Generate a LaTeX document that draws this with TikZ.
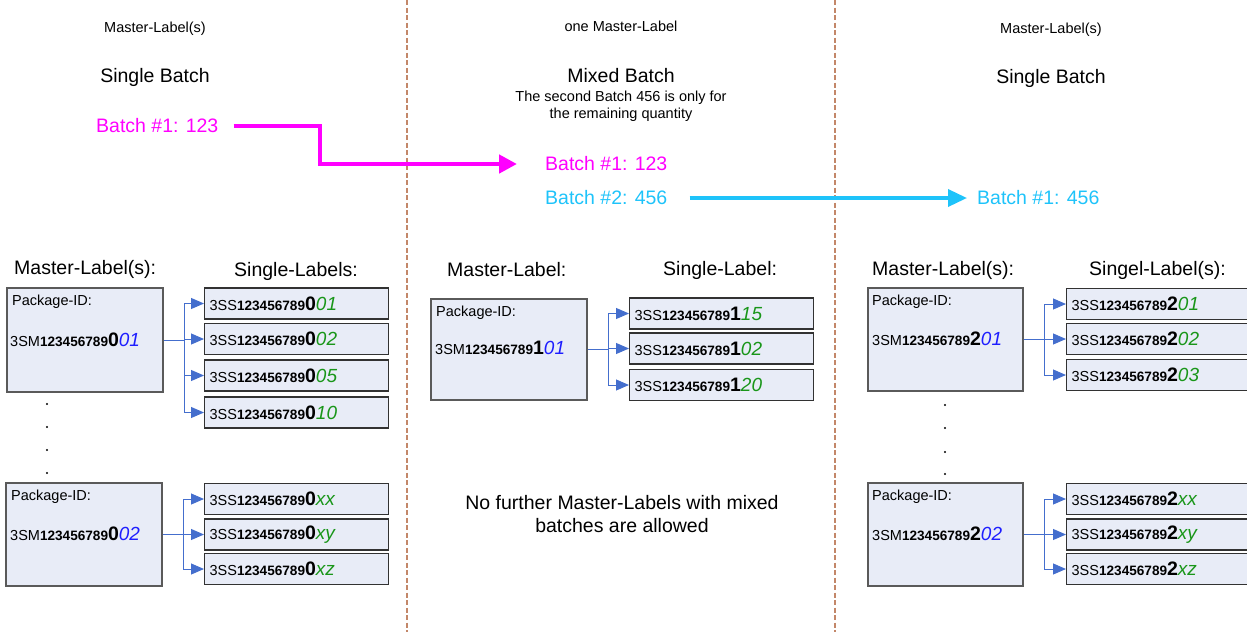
\documentclass[tikz,border=0pt]{standalone}
\usepackage{fontspec}
\setmainfont{Liberation Sans}
\usetikzlibrary{arrows.meta}
\definecolor{boxfill}{RGB}{232,236,247}
\definecolor{boxline}{RGB}{50,50,50}
\definecolor{mboxline}{RGB}{90,90,90}
\definecolor{connblue}{RGB}{68,110,205}
\definecolor{sfxblue}{RGB}{30,30,255}
\definecolor{sfxgreen}{RGB}{25,150,25}
\definecolor{magline}{RGB}{255,0,255}
\definecolor{cyline}{RGB}{30,195,250}
\definecolor{dashbrown}{RGB}{195,135,105}
\newcommand\fsz[1]{\fontsize{#1}{#1}\selectfont}
\newcommand\fszb[2]{\fontsize{#1}{#2}\selectfont}
% #1 prefix, #2 big bold digit, #3 suffix, #4 colour
\newcommand\idlab[4]{\fsz{14.5}#1{\bfseries\fsz{13.6}123456789}{\bfseries\fsz{19.5}#2}{\itshape\fsz{19}\color{#4}#3}}
\begin{document}
\begin{tikzpicture}[x=1pt,y=-1pt,
  txt/.style={inner sep=0pt, text=black},
  small/.style={txt, font=\fsz{14.5}},
  big/.style={txt, font=\fsz{19.5}},
  mbox/.style={draw=mboxline, fill=boxfill, line width=1.3pt, inner sep=0pt},
  sbox/.style={draw=boxline, fill=boxfill, line width=1.3pt, inner xsep=5pt, inner ysep=0pt,
     minimum height=31pt, text width=174pt, align=left, anchor=west},
  conn/.style={draw=connblue, line width=1pt},
  carr/.style={conn, -{Triangle[length=13pt,width=11pt]}},
  mag/.style={draw=magline, line width=4.5pt, -{Triangle[length=18pt,width=18pt]}},
  cyn/.style={draw=cyline, line width=3.5pt, -{Triangle[length=19pt,width=17pt]}},
  sep/.style={draw=dashbrown, line width=1.3pt, dash pattern=on 5pt off 2.5pt},
  dot/.style={circle, fill=black, inner sep=0pt, minimum size=2.2pt}
]
\useasboundingbox (0,0) rectangle (1247,632);
\clip (0,0) rectangle (1247,632);

% separators
\coordinate (d1t) at (407,0); \coordinate (d1b) at (407,632);
\coordinate (d2t) at (835,0); \coordinate (d2b) at (835,632);
\draw[sep] (d1t) -- (d1b);
\draw[sep] (d2t) -- (d2b);

% headers
\node[small] (h1) at (155,29) {Master-Label(s)};
\node[big] (h2) at (155,77) {Single Batch};
\node[small] (h3) at (621,26) {one Master-Label};
\node[big] (h4) at (621,76) {Mixed Batch};
\node[txt, align=center, font=\fszb{14.5}{17}] (h5) at (621,106) {The second Batch 456 is only for\\the remaining quantity};
\node[small] (h6) at (1051,30) {Master-Label(s)};
\node[big] (h7) at (1051,78) {Single Batch};

% batches
\node[big, text=magline, anchor=west] (ba1) at (96,126) {Batch \#1: 123};
\node[big, text=magline, anchor=west] (bm1) at (545,164) {Batch \#1: 123};
\node[big, text=cyline, anchor=west] (bm2) at (545,198) {Batch \#2: 456};
\node[big, text=cyline, anchor=west] (br1) at (977,198) {Batch \#1: 456};
\coordinate (mk) at (320,164);
\draw[mag, shorten <=15pt, shorten >=28pt] (ba1.east) -| (mk) -- (bm1.west);
\draw[cyn, shorten <=22pt, shorten >=10pt] (bm2.east) -- (br1.west);

% column titles
\node[big, anchor=west] (t1) at (14,269) {Master-Label(s):};
\node[big, anchor=west] (t2) at (234,271) {Single-Labels:};
\node[big, anchor=west] (t3) at (447,270) {Master-Label:};
\node[big, anchor=west] (t4) at (663,270) {Single-Label:};
\node[big, anchor=west] (t5) at (872,270) {Master-Label(s):};
\node[big, anchor=west] (t6) at (1089,270) {Singel-Label(s):};

% ---------- left column ----------
\node[mbox, minimum width=156pt, minimum height=104pt] (mA) at (85,340) {};
\node[small, anchor=west] (pA) at (12,302) {Package-ID:};
\node[txt, anchor=west] (iA) at (10,340) {\idlab{3SM}{0}{01}{sfxblue}};
\node[sbox] (a1) at (204,303.5) {\idlab{3SS}{0}{01}{sfxgreen}};
\node[sbox] (a2) at (204,339) {\idlab{3SS}{0}{02}{sfxgreen}};
\node[sbox] (a3) at (204,375.5) {\idlab{3SS}{0}{05}{sfxgreen}};
\node[sbox] (a4) at (204,412.5) {\idlab{3SS}{0}{10}{sfxgreen}};
\coordinate (fA) at (184,340);
\draw[conn] (mA.east) -- (fA);
\foreach \s in {a1,a2,a3,a4} \draw[carr] (fA) |- (\s.west);

\node[dot] (dA1) at (47,404) {};
\node[dot] (dA2) at (47,427) {};
\node[dot] (dA3) at (47,450) {};
\node[dot] (dA4) at (47,473) {};

\node[mbox, minimum width=156pt, minimum height=103pt] (mB) at (84,534.5) {};
\node[small, anchor=west] (pB) at (11,497) {Package-ID:};
\node[txt, anchor=west] (iB) at (10,534) {\idlab{3SM}{0}{02}{sfxblue}};
\node[sbox] (b1) at (204,499) {\idlab{3SS}{0}{xx}{sfxgreen}};
\node[sbox] (b2) at (204,534.5) {\idlab{3SS}{0}{xy}{sfxgreen}};
\node[sbox] (b3) at (204,569) {\idlab{3SS}{0}{xz}{sfxgreen}};
\coordinate (fB) at (183,534.5);
\draw[conn] (mB.east) -- (fB);
\foreach \s in {b1,b2,b3} \draw[carr] (fB) |- (\s.west);

% ---------- middle column ----------
\node[mbox, minimum width=156pt, minimum height=101pt] (mC) at (509,349.5) {};
\node[small, anchor=west] (pC) at (436,313) {Package-ID:};
\node[txt, anchor=west] (iC) at (435,348) {\idlab{3SM}{1}{01}{sfxblue}};
\node[sbox] (c1) at (629,313.5) {\idlab{3SS}{1}{15}{sfxgreen}};
\node[sbox] (c2) at (629,348.5) {\idlab{3SS}{1}{02}{sfxgreen}};
\node[sbox] (c3) at (629,385) {\idlab{3SS}{1}{20}{sfxgreen}};
\coordinate (fC) at (608,349.5);
\draw[conn] (mC.east) -- (fC);
\foreach \s in {c1,c2,c3} \draw[carr] (fC) |- (\s.west);

\node[txt, align=center, font=\fszb{19.5}{23}] (nf) at (622,514) {No further Master-Labels with mixed\\batches are allowed};

% ---------- right column ----------
\node[mbox, minimum width=155pt, minimum height=103pt] (mD) at (945.5,339.5) {};
\node[small, anchor=west] (pD) at (872,302) {Package-ID:};
\node[txt, anchor=west] (iD) at (872,339) {\idlab{3SM}{2}{01}{sfxblue}};
\node[sbox] (e1) at (1066,304) {\idlab{3SS}{2}{01}{sfxgreen}};
\node[sbox] (e2) at (1066,339) {\idlab{3SS}{2}{02}{sfxgreen}};
\node[sbox] (e3) at (1066,375) {\idlab{3SS}{2}{03}{sfxgreen}};
\coordinate (fD) at (1044,339.5);
\draw[conn] (mD.east) -- (fD);
\foreach \s in {e1,e2,e3} \draw[carr] (fD) |- (\s.west);

\node[dot] (dD1) at (945,405) {};
\node[dot] (dD2) at (945,428) {};
\node[dot] (dD3) at (945,452) {};
\node[dot] (dD4) at (945,474) {};

\node[mbox, minimum width=155pt, minimum height=103pt] (mE) at (945.5,534.5) {};
\node[small, anchor=west] (pE) at (872,497) {Package-ID:};
\node[txt, anchor=west] (iE) at (872,534) {\idlab{3SM}{2}{02}{sfxblue}};
\node[sbox] (g1) at (1066,499) {\idlab{3SS}{2}{xx}{sfxgreen}};
\node[sbox] (g2) at (1066,534.5) {\idlab{3SS}{2}{xy}{sfxgreen}};
\node[sbox] (g3) at (1066,569) {\idlab{3SS}{2}{xz}{sfxgreen}};
\coordinate (fE) at (1044,534.5);
\draw[conn] (mE.east) -- (fE);
\foreach \s in {g1,g2,g3} \draw[carr] (fE) |- (\s.west);
\end{tikzpicture}
\end{document}
